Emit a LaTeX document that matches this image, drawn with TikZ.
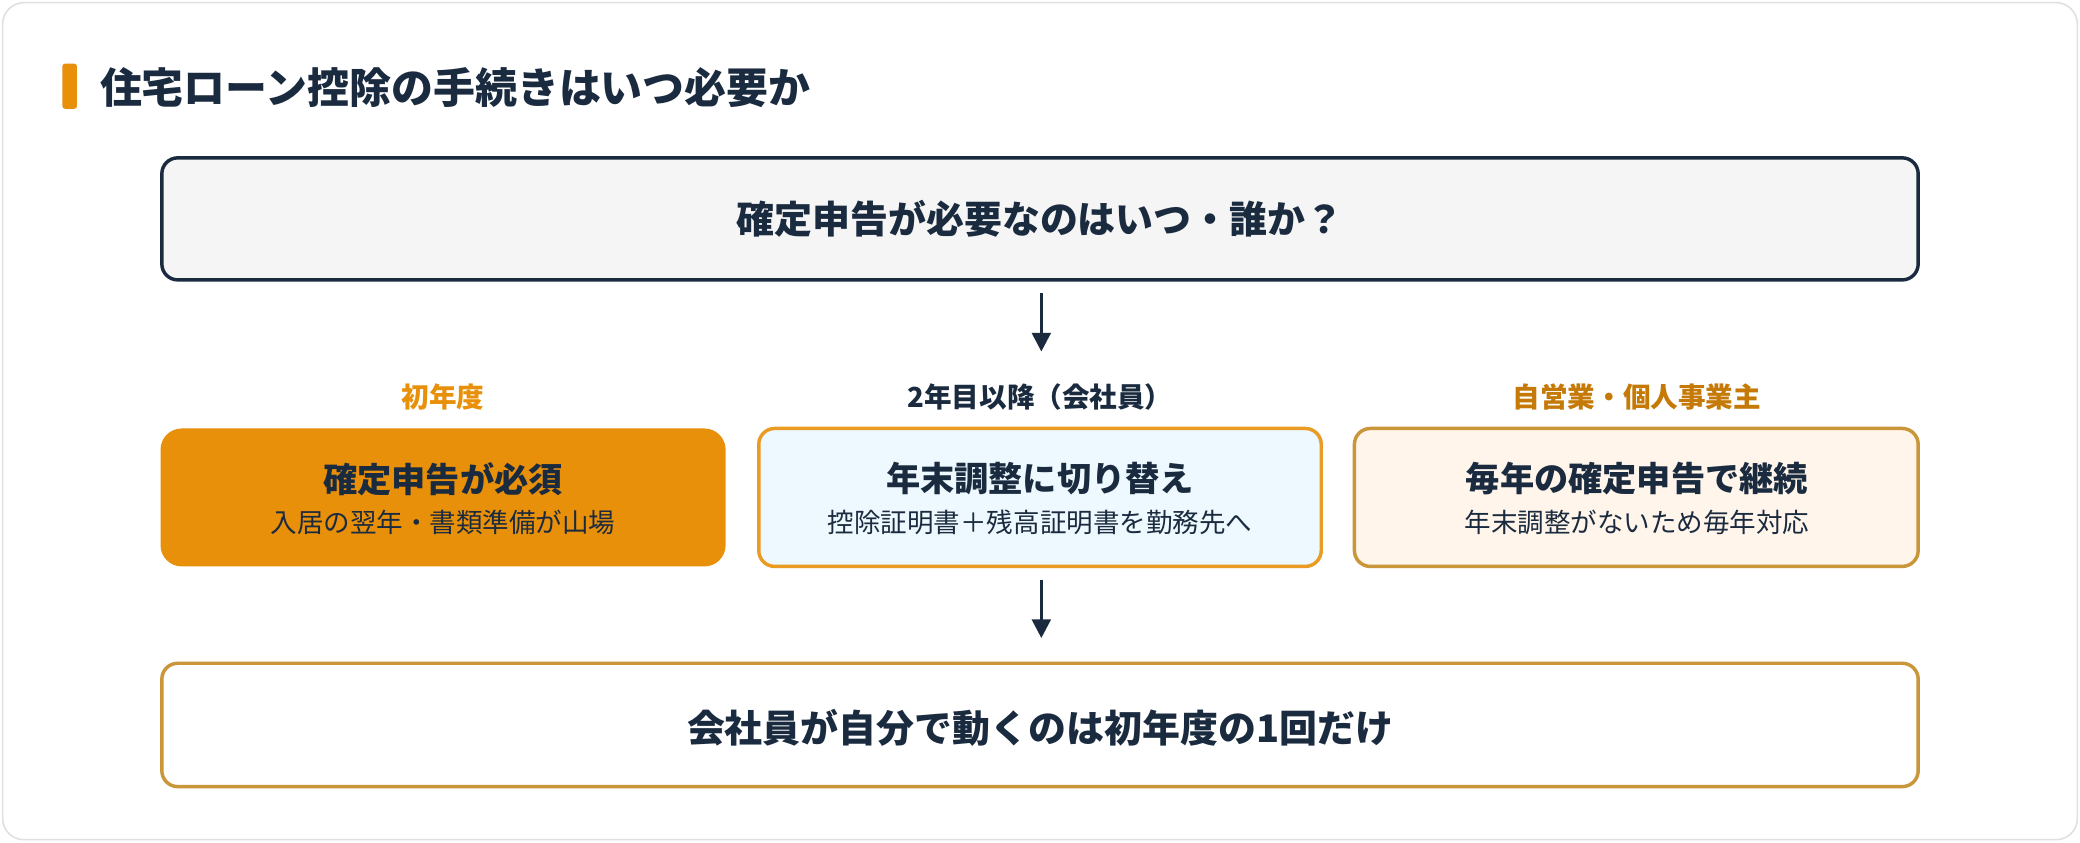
\documentclass[tikz,border=0pt]{standalone}
\usepackage{fontspec}
\setmainfont{Noto Sans CJK JP}
\usetikzlibrary{arrows.meta}
\definecolor{navy}{HTML}{1B2B3F}
\definecolor{org}{HTML}{E8900A}
\definecolor{gold}{HTML}{C9963A}
\begin{document}
\begin{tikzpicture}[x=0.5pt,y=-0.5pt,
  box/.style={rounded corners=6pt,line width=1.3pt},
  big/.style={font=\bfseries\fontsize{14.3}{16}\selectfont,text=navy},
  main/.style={font=\bfseries\fontsize{12.9}{15}\selectfont,text=navy},
  sub/.style={font=\fontsize{10}{12}\selectfont,text=navy},
  lab/.style={font=\bfseries\fontsize{10.4}{12}\selectfont},
  arr/.style={-{Triangle[length=7pt,width=7pt]},line width=1.2pt,draw=navy}]
\useasboundingbox (0,0) rectangle (1568,635);
\draw[rounded corners=8pt,draw=black!12,fill=white,line width=0.6pt] (2,2) rectangle (1566,633);
\fill[org,rounded corners=1pt] (47,48) rectangle (58,82);
\node[anchor=west,inner sep=0pt,font=\bfseries\fontsize{15.8}{18}\selectfont,text=navy] (title) at (75,66) {住宅ローン控除の手続きはいつ必要か};
\draw[box,draw=navy,fill=black!4!white] (122,119) rectangle (1446,211);
\node[big] (q) at (784,165) {確定申告が必要なのはいつ・誰か？};
\coordinate (a1s) at (785,221); \coordinate (a1e) at (785,265);
\draw[arr] (a1s) -- (a1e);
\node[lab,text=org] (l1) at (334,299) {初年度};
\node[lab,text=navy] (l2) at (784,299) {2年目以降（会社員）};
\node[lab,text=org!85!black] (l3) at (1234,299) {自営業・個人事業主};
\fill[org,rounded corners=8pt] (121,323) rectangle (547,427);
\node[main] (b1) at (334,361) {確定申告が必須};
\node[sub] (s1) at (334,394) {入居の翌年・書類準備が山場};
\draw[box,draw=org!90,fill=cyan!7!white] (572,323) rectangle (996,427);
\node[main] (b2) at (784,361) {年末調整に切り替え};
\node[sub] (s2) at (784,394) {控除証明書＋残高証明書を勤務先へ};
\draw[box,draw=gold,fill=orange!8!white] (1021,323) rectangle (1446,427);
\node[main] (b3) at (1234,361) {毎年の確定申告で継続};
\node[sub] (s3) at (1234,394) {年末調整がないため毎年対応};
\coordinate (a2s) at (785,437); \coordinate (a2e) at (785,481);
\draw[arr] (a2s) -- (a2e);
\draw[box,draw=gold,fill=white] (122,500) rectangle (1446,593);
\node[big] (c) at (784,549) {会社員が自分で動くのは初年度の1回だけ};
\end{tikzpicture}
\end{document}
